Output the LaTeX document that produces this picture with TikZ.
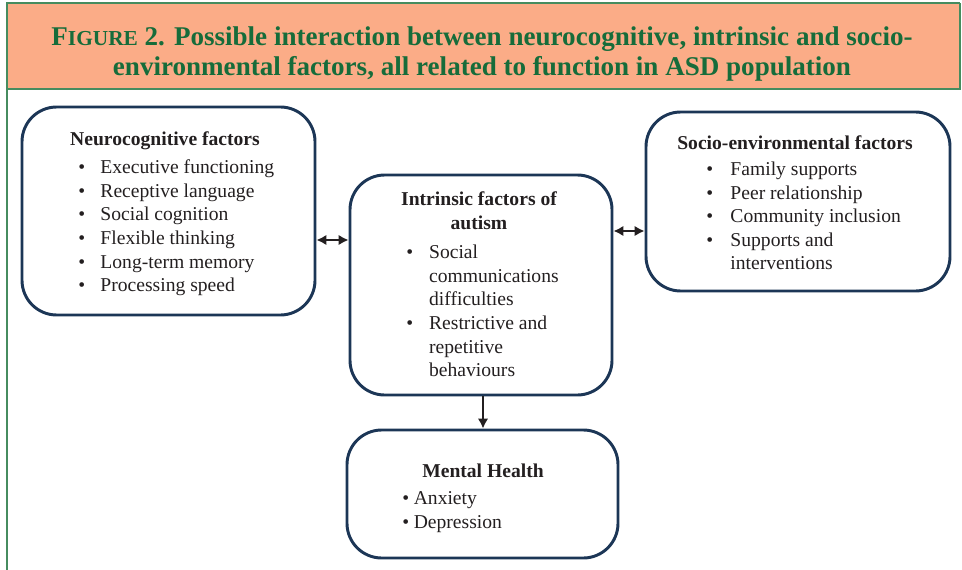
\documentclass[tikz,border=0pt]{standalone}
\usepackage{fontspec}
\setmainfont{Liberation Serif}
\usetikzlibrary{arrows.meta,positioning}

\definecolor{headbg}{RGB}{251,172,135}
\definecolor{headgreen}{RGB}{22,108,58}
\definecolor{framegreen}{RGB}{70,140,95}
\definecolor{boxnavy}{RGB}{28,54,86}
\definecolor{inkgray}{RGB}{35,31,32}

\newcommand{\bodyfont}{\fontsize{14.7}{17.7}\selectfont}

\begin{document}
\begin{tikzpicture}[
x=0.75pt, y=-0.75pt,
factorbox/.style={rectangle, rounded corners=26pt, draw=boxnavy, line width=2.2pt},
boxtitle/.style={font=\bodyfont\bfseries, text=inkgray, align=center, inner sep=0pt},
itemlist/.style={font=\bodyfont, text=inkgray, anchor=west, inner sep=0pt},
link/.style={draw=inkgray, line width=1.8pt},
tip/.tip={Latex[length=7.5pt,width=8pt]}]
\useasboundingbox (0,0) rectangle (962,570);
% Header band
\fill[headbg] (7,3) rectangle (960,89);
\draw[framegreen, line width=1.2pt] (960,3) -- (7,3) -- (7,570);
\draw[framegreen, line width=1.2pt] (7,89) -- (960,89) -- (960,3);
\node[font=\fontsize{20.3}{22.5}\selectfont\bfseries, text=headgreen, align=center] (caption) at (482,54)
  {F{\fontsize{16}{16}\selectfont IGURE} 2. Possible interaction between neurocognitive, intrinsic and socio-\\
   environmental factors, all related to function in ASD population};
% Boxes
\node[factorbox, minimum width=219.75pt, minimum height=156pt] (neuro) at (168.5,211) {};
\node[factorbox, minimum width=196.5pt, minimum height=165pt] (intr) at (481,285) {};
\node[factorbox, minimum width=228pt, minimum height=134.25pt] (socio) at (798,201.5) {};
\node[factorbox, minimum width=203.25pt, minimum height=96pt] (mh) at (482.5,494) {};
% Texts
\node[boxtitle] (neurot) at (165,141) {Neurocognitive factors};
\node[itemlist] (neurol) at (78,228) {\begin{tabular}{@{}l@{\hspace{11.5pt}}l@{}}
  \textbullet & Executive functioning\\
  \textbullet & Receptive language\\
  \textbullet & Social cognition\\
  \textbullet & Flexible thinking\\
  \textbullet & Long-term memory\\
  \textbullet & Processing speed
\end{tabular}};
\node[boxtitle] (intrt) at (479,211) {Intrinsic factors of\\autism};
\node[itemlist] (intrl) at (406,313) {\begin{tabular}{@{}l@{\hspace{12pt}}l@{}}
  \textbullet & Social\\
   & communications\\
   & difficulties\\
  \textbullet & Restrictive and\\
   & repetitive\\
   & behaviours
\end{tabular}};
\node[boxtitle] (sociot) at (795,143) {Socio-environmental factors};
\node[itemlist] (sociol) at (706,218) {\begin{tabular}{@{}l@{\hspace{13pt}}l@{}}
  \textbullet & Family supports\\
  \textbullet & Peer relationship\\
  \textbullet & Community inclusion\\
  \textbullet & Supports and\\
   & interventions
\end{tabular}};
\node[boxtitle] (mht) at (483,471) {Mental Health};
\node[itemlist] (mhl) at (402,512) {\begin{tabular}{@{}l@{\hspace{3.5pt}}l@{}}
  \textbullet & Anxiety\\
  \textbullet & Depression
\end{tabular}};
% Lines
\draw[link, arrows={tip-tip}] (neuro.east |- 0,240) -- (intr.west |- 0,240);
\draw[link, arrows={tip-tip}] (intr.east |- 0,231) -- (socio.west |- 0,231);
\draw[link, arrows={-tip}] (intr.south -| 483,0) -- (mh.north -| 483,0);
\end{tikzpicture}
\end{document}
